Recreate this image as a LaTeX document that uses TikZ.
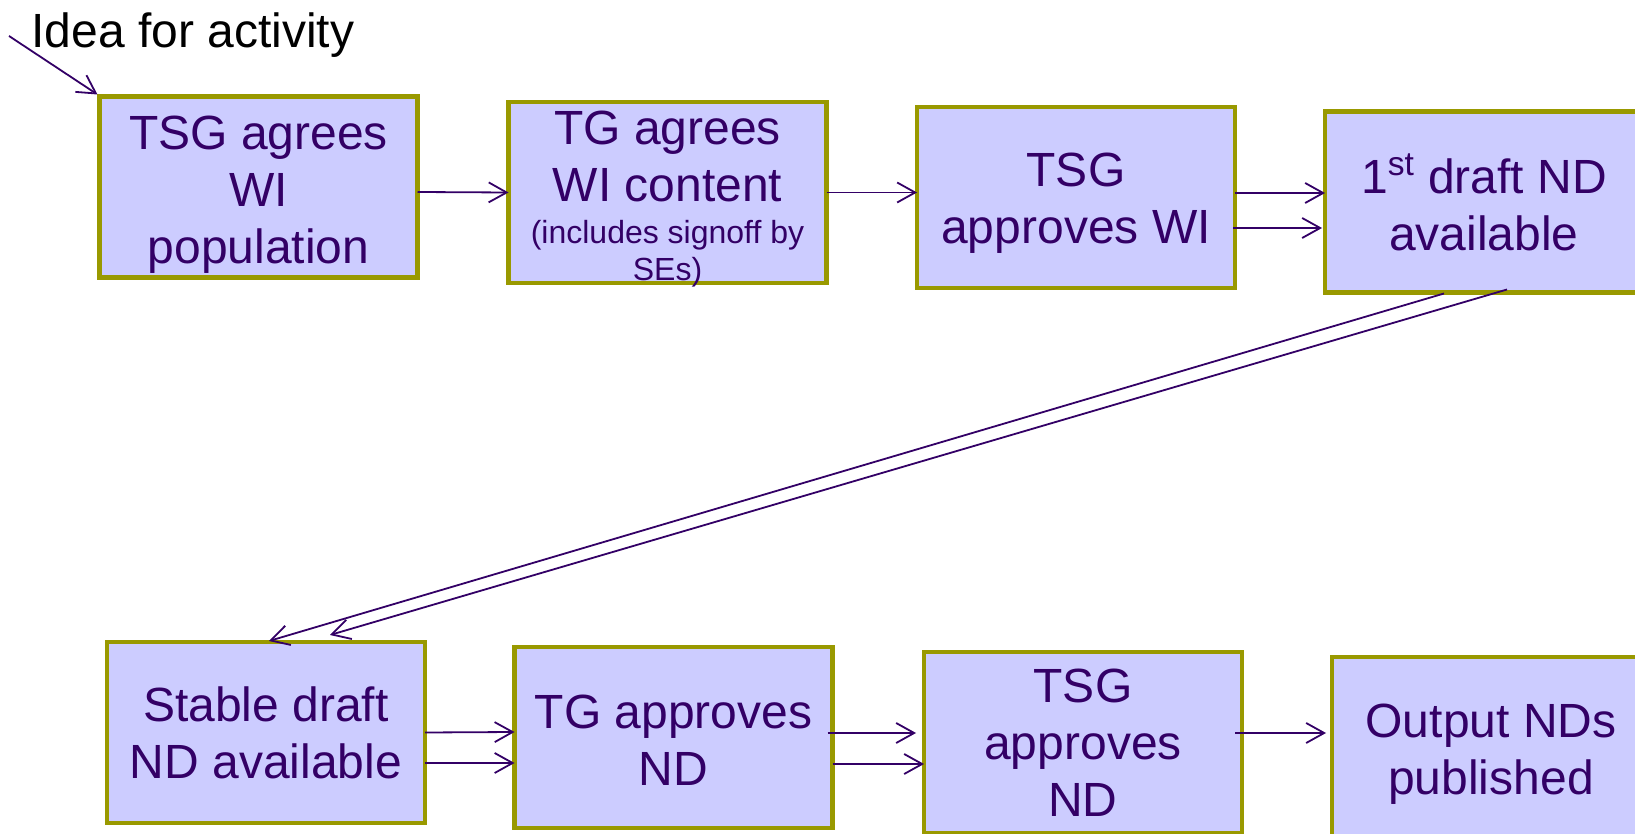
\documentclass[tikz,border=0pt]{standalone}
\usepackage{fontspec}
\setmainfont{Liberation Sans}
\usetikzlibrary{arrows.meta,calc}
\definecolor{boxfill}{HTML}{CCCCFF}
\definecolor{boxline}{HTML}{999900}
\definecolor{ink}{HTML}{330066}
\newcommand\toppad[1]{\rule{0pt}{#1}}
\begin{document}
\begin{tikzpicture}[x=0.5pt,y=-0.5pt,
  stepbox/.style={draw=boxline,fill=boxfill,line width=2.3pt,minimum width=159pt,
    minimum height=90.5pt,inner sep=0pt,outer sep=0pt,align=center,text=ink,
    font=\fontsize{24}{28.5}\selectfont},
  arr/.style={draw=ink,line width=0.9pt,-{Straight Barb[length=9pt,width=10pt]}}]
\useasboundingbox (0,0) rectangle (1635,834);
\clip (0,0) rectangle (1635,834);
\node[anchor=base west,inner sep=0pt,font=\fontsize{24}{28.5}\selectfont] (idea) at (31,48) {Idea for activity};
\coordinate (s0) at (9,36);
\node[stepbox] (b1) at (258.5,187) {\toppad{24.8pt}TSG agrees\\WI\\population};
\node[stepbox] (b2) at (667.5,192.5) {TG agrees\\WI content\\[-7.5pt]\fontsize{16}{18.5}\selectfont\raisebox{0pt}[\height][\dimexpr\depth-8.4pt\relax]{\begin{tabular}[t]{@{}c@{}}(includes signoff by\\SEs)\end{tabular}}};
\node[stepbox] (b3) at (1076,197.5) {\toppad{22.7pt}TSG\\approves WI};
\node[stepbox] (b4) at (1484,202) {1\textsuperscript{st} draft ND\\available};
\node[stepbox] (b5) at (266,732.5) {Stable draft\\ND available};
\node[stepbox] (b6) at (673.5,737.5) {\toppad{19.5pt}TG approves\\ND};
\node[stepbox] (b7) at (1083,742.5) {TSG\\approves\\ND};
\node[stepbox] (b8) at (1491,747.5) {\toppad{23.8pt}Output NDs\\published};
\draw[arr] (s0) -- ($(b1.north west)+(-2,-2)$);
\draw[arr] ($(b1.east)+(0,5)$) -- (b2.west);
\draw[arr] (b2.east) -- ($(b3.west)+(0,-5)$);
\draw[arr] ($(b3.east)+(0,-4.5)$) -- ($(b4.west)+(0,-9)$);
\draw[arr] ($(b3.east)+(-2,30.5)$) -- ($(b4.west)+(-3,26)$);
\draw[arr] ($(b4.south)+(-40,1)$) -- ($(b5.north)+(3,-1)$);
\draw[arr] ($(b4.south)+(23,-3)$) -- ($(b5.north)+(64,-7)$);
\draw[arr] (b5.east) -- ($(b6.west)+(0,-5.5)$);
\draw[arr] ($(b5.east)+(0,30.5)$) -- ($(b6.west)+(0,25.5)$);
\draw[arr] ($(b6.east)+(-5,-4.5)$) -- ($(b7.west)+(-8,-9.5)$);
\draw[arr] ($(b6.east)+(0,26.5)$) -- ($(b7.west)+(0,21.5)$);
\draw[arr] ($(b7.east)+(-7,-9.5)$) -- ($(b8.west)+(-6,-14.5)$);
\end{tikzpicture}
\end{document}
